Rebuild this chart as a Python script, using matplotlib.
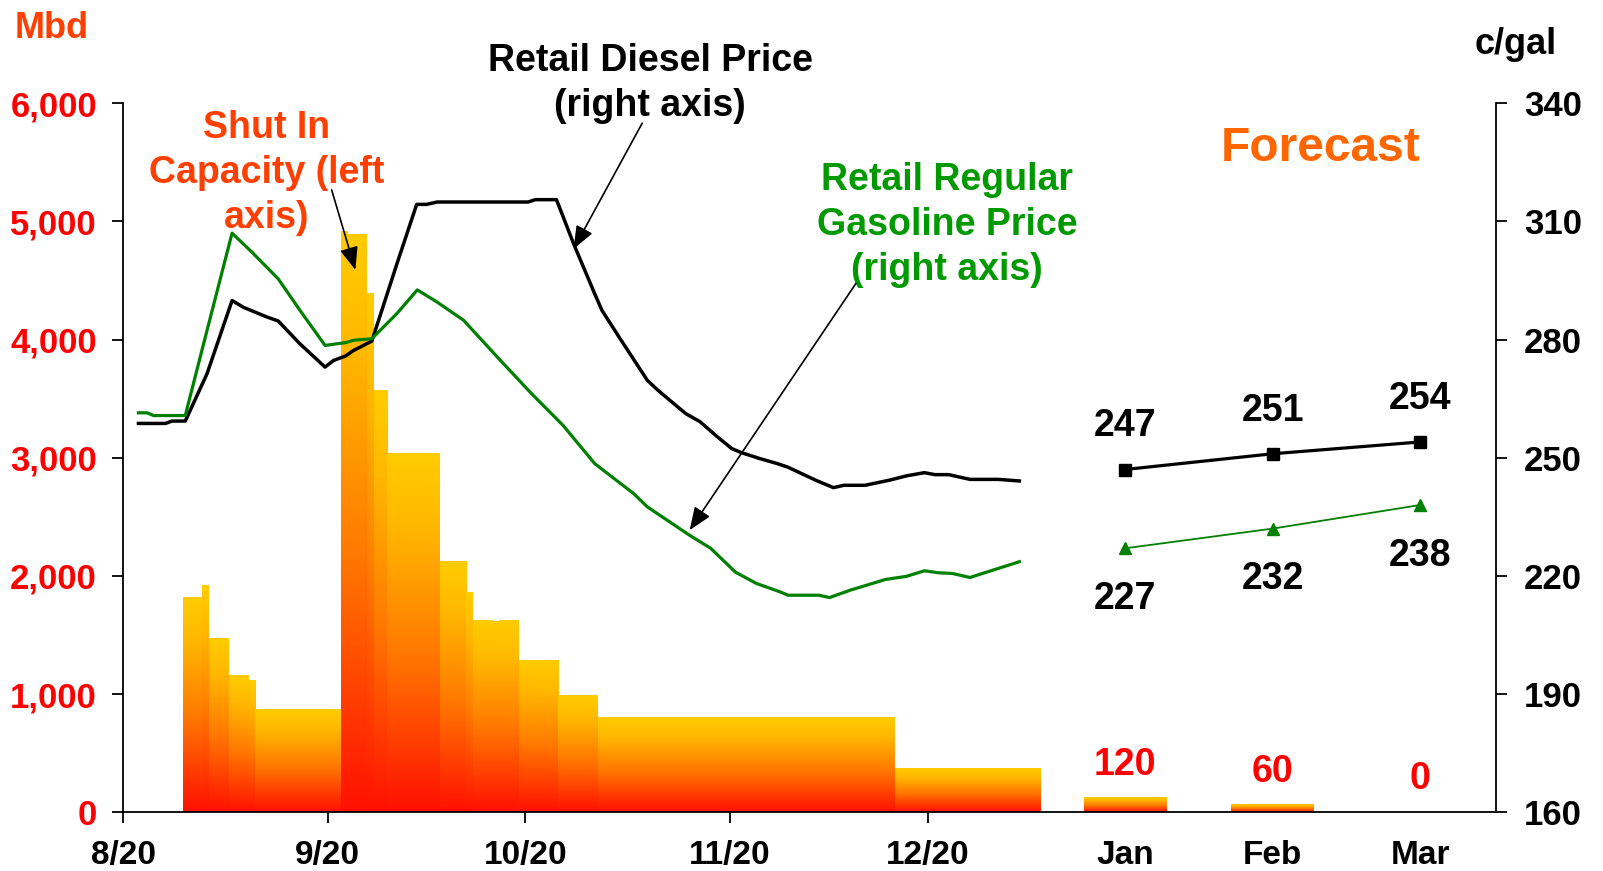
import numpy as np
import matplotlib.pyplot as plt
from matplotlib.colors import LinearSegmentedColormap

plt.rcParams['font.family'] = 'Liberation Sans'
plt.rcParams['font.weight'] = 'bold'

# x positions are days counted from 8/20
date_ticks = [0, 31, 61, 92, 122]
date_labels = ['8/20', '9/20', '10/20', '11/20', '12/20']
month_days = [151.9, 174.3, 196.7]
month_labels = ['Jan', 'Feb', 'Mar']

# shut in capacity (Mbd), each step starts on these days
shut_start = [9, 12, 13, 16, 19, 20, 33, 34, 37, 38, 40, 48, 52, 53, 56, 57, 60, 66, 72, 117]
shut_end = 139
shut_in = [1819, 1915, 1467, 1153, 1111, 866, 4908, 4885, 4386, 3565, 3032, 2118,
           1858, 1619, 1613, 1619, 1280, 984, 798, 366]

# retail prices (c/gal)
diesel_days = [2.3, 6.4, 7.4, 9.4, 12.7, 16.5, 18.2, 21.8, 23.5, 26.8, 30.6, 31.9, 33.7,
               34.9, 37.7, 41.5, 44.5, 46.0, 47.6, 61.4, 62.5, 65.7, 68.3, 71.5, 72.6,
               75.2, 79.5, 81.1, 85.3, 87.5, 90.1, 92.3, 93.9, 96.5, 99.2, 100.8, 105.0,
               107.7, 109.3, 112.5, 116.2, 118.8, 121.5, 123.1, 125.2, 128.4, 132.7, 135.9]
diesel = [258.7, 258.7, 259.3, 259.3, 271.3, 289.9, 288.2, 285.7, 284.7, 278.9, 273.0,
          274.7, 275.8, 277.2, 279.6, 299.2, 314.3, 314.3, 314.9, 314.9, 315.5, 315.5,
          304.3, 291.6, 287.4, 280.6, 269.6, 267.1, 261.2, 259.1, 255.3, 252.3, 251.2,
          249.8, 248.5, 247.6, 244.3, 242.4, 243.0, 243.0, 244.3, 245.4, 246.2, 245.7,
          245.7, 244.5, 244.5, 244.1]

gas_days = [2.3, 3.6, 4.6, 9.4, 12.7, 16.5, 19.5, 23.5, 26.8, 30.6, 31.9, 33.7, 34.9,
            37.7, 41.5, 44.6, 47.6, 51.6, 57.2, 61.9, 66.7, 71.5, 77.4, 79.5, 85.9, 89.1,
            92.8, 96.0, 99.7, 100.8, 105.5, 107.1, 110.3, 115.6, 118.8, 121.5, 123.6,
            125.8, 128.4, 135.9]
gas = [261.4, 261.4, 260.7, 260.7, 282.3, 307.0, 302.2, 295.4, 287.4, 278.5, 278.8,
       279.2, 279.8, 280.2, 286.6, 292.6, 289.5, 284.9, 274.7, 266.3, 258.2, 248.5,
       240.9, 237.5, 230.3, 227.0, 221.0, 218.1, 215.9, 215.1, 215.1, 214.5, 216.4,
       219.1, 219.9, 221.3, 220.8, 220.6, 219.6, 223.6]

# forecast
shut_fc = [120, 60, 0]
diesel_fc = [247, 251, 254]
gas_fc = [227, 232, 238]

cmap = LinearSegmentedColormap.from_list(
    'fire', [(0, '#FF1000'), (0.45, '#FF7A00'), (0.8, '#FFB800'), (1, '#FFCC00')])

fig = plt.figure(figsize=(16.03, 8.71), dpi=100)
ax = fig.add_axes([0.0769, 0.0674, 0.8564, 0.8142])
ax2 = ax.twinx()

# bars with a red->yellow gradient
widths = np.diff(shut_start + [shut_end])
bars = ax.bar(shut_start, shut_in, width=widths, align='edge', color='none', linewidth=0)
fc_bars = ax.bar(month_days, shut_fc, width=12.5, color='none', linewidth=0)
grad = np.linspace(0, 1, 256).reshape(-1, 1)
for b in list(bars) + list(fc_bars):
    x0, w, h = b.get_x(), b.get_width(), b.get_height()
    if h <= 0:
        continue
    ax.imshow(grad, extent=(x0, x0 + w, 0, h), origin='lower', cmap=cmap,
              aspect='auto', zorder=1)

ax.set_xlim(0, 208.2)
ax.set_ylim(0, 6000)
ax2.set_ylim(160, 340)

# price lines
ax2.plot(diesel_days, diesel, color='black', lw=2.5)
ax2.plot(gas_days, gas, color='#008000', lw=2.3)
ax2.plot(month_days, diesel_fc, color='black', lw=2.3, marker='s', ms=8)
ax2.plot(month_days, gas_fc, color='#008000', lw=1.3, marker='^', ms=9)

for x, v in zip(month_days, diesel_fc):
    ax2.annotate(str(v), (x, v), xytext=(0, 31), textcoords='offset points',
                 ha='center', va='center', fontsize=27)
for x, v in zip(month_days, gas_fc):
    ax2.annotate(str(v), (x, v), xytext=(0, -36.5), textcoords='offset points',
                 ha='center', va='center', fontsize=27)
for x, v in zip(month_days, shut_fc):
    ax.annotate(str(v), (x, v), xytext=(0, 24), textcoords='offset points',
                ha='center', va='center', fontsize=27, color='#FF0000')

# axes styling
ax.set_yticks(range(0, 6001, 1000))
ax.set_yticklabels([f'{v:,}' for v in range(0, 6001, 1000)])
ax2.set_yticks(range(160, 341, 30))
ax.set_xticks(date_ticks, date_labels)
ax.set_xticks(month_days, month_labels, minor=True)

ax.tick_params(axis='y', length=8, width=1.3, labelsize=25, labelcolor='#FF0000', pad=11)
ax2.tick_params(axis='y', length=8, width=1.3, labelsize=25, pad=12)
ax.tick_params(axis='x', which='major', length=8, width=1.3, labelsize=24, pad=12)
ax.tick_params(axis='x', which='minor', length=0, labelsize=24, pad=20)

for s in ['top', 'right']:
    ax.spines[s].set_visible(False)
for s in ['top', 'left', 'bottom']:
    ax2.spines[s].set_visible(False)
ax.spines['left'].set_linewidth(1.3)
ax.spines['bottom'].set_linewidth(1.3)
ax2.spines['right'].set_linewidth(1.3)

# units
fig.text(52 / 1603, 1 - 28 / 871, 'Mbd', color='#FF3F00', fontsize=26, ha='center', va='center')
fig.text(1516 / 1603, 1 - 45 / 871, 'c/gal', color='black', fontsize=26, ha='center', va='center')

# annotations
arrow = dict(arrowstyle='-|>,head_length=0.5,head_width=0.2', color='black', lw=1.2,
             mutation_scale=28, shrinkA=0, shrinkB=0)
ax.text(21.8, 5408, 'Shut In\nCapacity (left\naxis)', color='#FF3F00', fontsize=27,
        ha='center', va='center', linespacing=1.33)
ax.annotate('', xy=(35.2, 4589), xytext=(31.6, 5266), arrowprops=arrow)

ax2.text(79.9, 344.9, 'Retail Diesel Price\n(right axis)', color='black', fontsize=27,
         ha='center', va='center', linespacing=1.33)
ax2.annotate('', xy=(68.3, 303.0), xytext=(78.7, 334.9), arrowprops=arrow)

ax2.text(124.9, 309.1, 'Retail Regular\nGasoline Price\n(right axis)', color='#009900',
         fontsize=27, ha='center', va='center', linespacing=1.33)
ax2.annotate('', xy=(85.9, 231.6), xytext=(111.1, 294.2), arrowprops=arrow)

ax2.text(181.6, 328.4, 'Forecast', color='#FF6600', fontsize=34.5, ha='center', va='center')

fig.savefig('out.png', dpi=100)
